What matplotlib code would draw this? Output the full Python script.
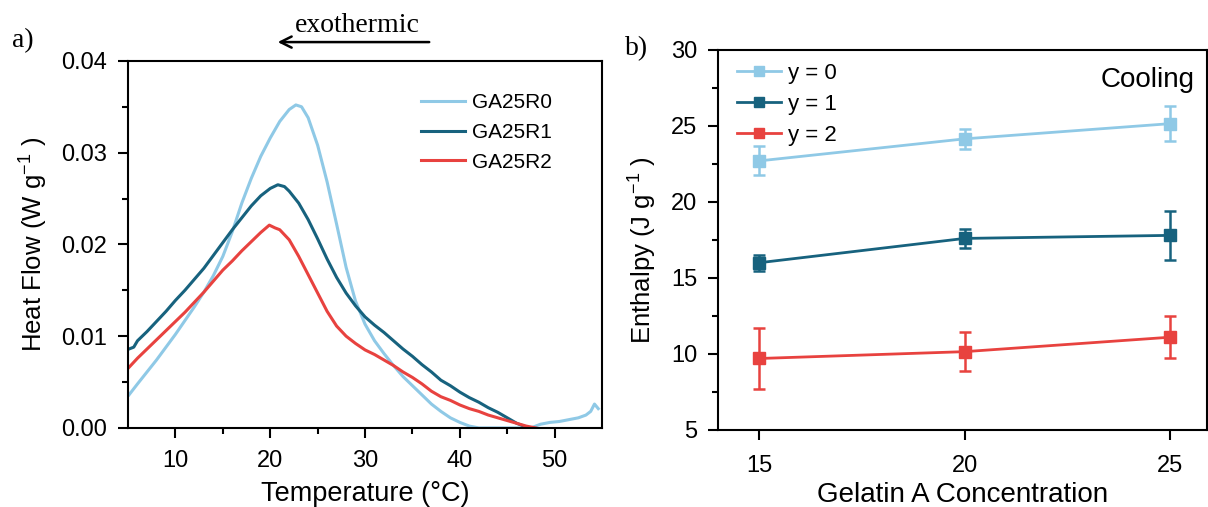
import numpy as np
import matplotlib
matplotlib.use('Agg')
import matplotlib.pyplot as plt

plt.rcParams['font.family'] = ['Liberation Sans', 'DejaVu Sans']
plt.rcParams['mathtext.default'] = 'regular'

# ---------------- data: panel a) DSC heat flow curves ----------------
t_r0 = [5.1, 6, 7, 8, 9, 10, 11, 12, 13, 14, 15, 16, 17, 18, 19, 20, 21, 22, 22.7, 23.3,
        24, 25, 26, 27, 28, 29, 30, 31, 32, 33, 34, 35, 36, 37, 38, 39, 40, 41, 42, 44,
        46, 47.5, 48.5, 49.5, 50.5, 51.5, 52.5, 53.3, 53.8, 54.2, 54.6]
hf_r0 = [0.0036, 0.0048, 0.0061, 0.0074, 0.0088, 0.0102, 0.0117, 0.0132, 0.0148, 0.0166,
         0.0187, 0.0214, 0.0245, 0.0272, 0.0296, 0.0316, 0.0334, 0.0347, 0.0352, 0.0350,
         0.0338, 0.0308, 0.0268, 0.0222, 0.0175, 0.0138, 0.0113, 0.0095, 0.0081, 0.0068,
         0.0056, 0.0046, 0.0036, 0.0026, 0.0018, 0.0011, 0.0006, 0.0002, 0.0, 0.0,
         0.0, 0.0, 0.0004, 0.0006, 0.0007, 0.0009, 0.0011, 0.0014, 0.0018, 0.0026, 0.0021]

t_r1 = [5.1, 5.6, 6, 7, 8, 9, 10, 11, 12, 13, 14, 15, 16, 17, 18, 19, 20, 20.8, 21.5, 22,
        23, 24, 25, 26, 27, 28, 29, 30, 31, 32, 33, 34, 35, 36, 37, 38, 39, 40, 41, 42,
        43, 44, 45, 46, 47, 47.5]
hf_r1 = [0.0086, 0.0088, 0.0095, 0.0105, 0.0116, 0.0127, 0.0139, 0.0150, 0.0162, 0.0174,
         0.0188, 0.0202, 0.0216, 0.0229, 0.0242, 0.0253, 0.0261, 0.0265, 0.0263, 0.0258,
         0.0245, 0.0227, 0.0206, 0.0184, 0.0164, 0.0147, 0.0133, 0.0121, 0.0112, 0.0104,
         0.0095, 0.0086, 0.0078, 0.0069, 0.0061, 0.0052, 0.0046, 0.0039, 0.0033, 0.0028,
         0.0022, 0.0017, 0.0011, 0.0005, 0.0001, 0.0]

t_r2 = [5.1, 6, 7, 8, 9, 10, 11, 12, 13, 14, 15, 16, 17, 18, 19, 19.9, 20.5, 21, 22, 23,
        24, 25, 26, 27, 28, 29, 30, 31, 32, 33, 34, 35, 36, 37, 38, 39, 40, 41, 42, 43,
        44, 45, 46, 47, 48]
hf_r2 = [0.0066, 0.0076, 0.0086, 0.0096, 0.0106, 0.0116, 0.0126, 0.0137, 0.0148, 0.0160,
         0.0172, 0.0182, 0.0193, 0.0203, 0.0213, 0.0221, 0.0218, 0.0216, 0.0205, 0.0187,
         0.0167, 0.0147, 0.0127, 0.0111, 0.0100, 0.0092, 0.0085, 0.0080, 0.0074, 0.0068,
         0.0061, 0.0055, 0.0048, 0.0040, 0.0034, 0.0030, 0.0025, 0.0021, 0.0018, 0.0014,
         0.0011, 0.0008, 0.0005, 0.0002, 0.0]

curve_labels = ['GA25R0', 'GA25R1', 'GA25R2']

# ---------------- data: panel b) enthalpy vs concentration ----------------
conc = [15, 20, 25]
enth_y0 = [22.7, 24.15, 25.15]
err_y0 = [0.95, 0.65, 1.15]
enth_y1 = [16.0, 17.6, 17.8]
err_y1 = [0.52, 0.64, 1.6]
enth_y2 = [9.7, 10.15, 11.1]
err_y2 = [2.0, 1.3, 1.4]
series_labels = ['y = 0', 'y = 1', 'y = 2']

C_LIGHT = '#8fc9e6'
C_DARK = '#17627e'
C_RED = '#e8423f'
COLORS = [C_LIGHT, C_DARK, C_RED]

fig = plt.figure(figsize=(12.08, 5.07), dpi=100)
fig.patch.set_facecolor('white')

ax1 = fig.add_axes([0.106, 0.156, 0.3924, 0.7239])
ax2 = fig.add_axes([0.5944, 0.152, 0.4048, 0.7495])

for ax in (ax1, ax2):
    for sp in ax.spines.values():
        sp.set_linewidth(1.5)
    ax.tick_params(which='both', direction='out', top=False, right=False,
                   labelsize=17, width=1.5)
    ax.tick_params(which='major', length=7)
    ax.tick_params(which='minor', length=4)
    ax.tick_params(axis='y', which='major', pad=8)

ax1.tick_params(axis='x', which='major', pad=9)
ax2.tick_params(axis='x', which='major', pad=11)

# ---- panel a ----
for t, hf, lab, c in zip([t_r0, t_r1, t_r2], [hf_r0, hf_r1, hf_r2], curve_labels, COLORS):
    ax1.plot(t, hf, color=c, lw=2.2, label=lab)

ax1.set_xlim(5, 55)
ax1.set_ylim(0, 0.04)
ax1.set_xticks([10, 20, 30, 40, 50])
ax1.set_xticks([15, 25, 35, 45], minor=True)
ax1.set_yticks([0.0, 0.01, 0.02, 0.03, 0.04])
ax1.set_yticks([0.005, 0.015, 0.025, 0.035], minor=True)
ax1.set_yticklabels(['0.00', '0.01', '0.02', '0.03', '0.04'])
ax1.set_xlabel('Temperature (°C)', fontsize=19.5)
ax1.xaxis.set_label_coords(0.5, -0.145)
ax1.set_ylabel('Heat Flow (W g$^{-1}$ )', fontsize=18.5, labelpad=8)
ax1.legend(loc='upper left', bbox_to_anchor=(0.6, 0.935), frameon=False, fontsize=15,
           handlelength=2.1, handletextpad=0.35, labelspacing=0.52, borderaxespad=0)

# ---- panel b ----
for y, e, lab, c in zip([enth_y0, enth_y1, enth_y2], [err_y0, err_y1, err_y2],
                        series_labels, COLORS):
    ax2.errorbar(conc, y, yerr=e, fmt='none', ecolor=c, elinewidth=1.8,
                 capsize=4, capthick=1.8)
    ax2.plot(conc, y, color=c, lw=2.0, marker='s', markersize=9, label=lab)

ax2.set_xlim(14, 25.9)
ax2.set_ylim(5, 30)
ax2.set_xticks(conc)
ax2.set_yticks([5, 10, 15, 20, 25, 30])
ax2.set_yticks([7.5, 12.5, 17.5, 22.5, 27.5], minor=True)
ax2.set_xlabel('Gelatin A Concentration', fontsize=20)
ax2.xaxis.set_label_coords(0.5, -0.137)
ax2.set_ylabel('Enthalpy (J g$^{-1}$ )', fontsize=18.5)
ax2.yaxis.set_label_coords(-0.12, 0.474)
ax2.legend(loc='upper left', bbox_to_anchor=(0.02, 0.99), frameon=False, fontsize=16,
           handlelength=2.0, handletextpad=0.3, labelspacing=0.45, borderaxespad=0,
           markerscale=0.75)
ax2.text(0.975, 0.903, 'Cooling', transform=ax2.transAxes, fontsize=20,
         ha='right', va='baseline')

# ---- panel tags and exothermic arrow ----
fig.text(0.010, 0.92, 'a)', fontsize=20, family='Liberation Serif', va='center')
fig.text(0.517, 0.905, 'b)', fontsize=20, family='Liberation Serif', va='center')
fig.text(0.2955, 0.937, 'exothermic', fontsize=20, family='Liberation Serif',
         ha='center', va='baseline')
fig.add_artist(matplotlib.patches.FancyArrowPatch(
    (0.3576, 0.917), (0.2276, 0.917), transform=fig.transFigure,
    arrowstyle='->', mutation_scale=20, lw=1.8, color='black'))

plt.savefig('out.png', dpi=100)
